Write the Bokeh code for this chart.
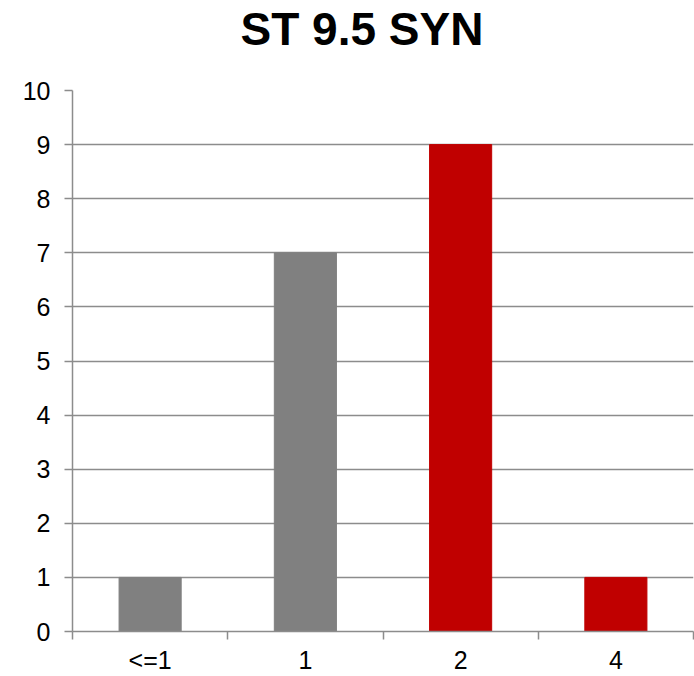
from bokeh.plotting import figure
from bokeh.models import Range1d, FixedTicker, ColumnDataSource, LinearAxis
from bokeh.embed import file_html
from bokeh.resources import INLINE

# Distribution counts per category
categories = ["<=1", "1", "2", "4"]
counts = [1, 7, 9, 1]
bar_colors = ["#808080", "#808080", "#C00000", "#C00000"]
y_ticks = list(range(0, 11))
title_text = "ST 9.5 SYN"

x_pos = [i + 0.5 for i in range(len(categories))]
source = ColumnDataSource(dict(x=x_pos, top=counts, color=bar_colors))

FONT = "Liberation Sans"
GRID = "#8c8c8c"

p = figure(
    width=694, height=676,
    x_range=Range1d(0, len(categories)), y_range=Range1d(0, 10),
    output_backend="svg", toolbar_location=None,
    min_border_left=72, min_border_right=1, min_border_top=89, min_border_bottom=43,
)
p.outline_line_color = None

p.vbar(x="x", top="top", bottom=0, width=0.4, color="color", source=source)

# blank band between the plotting area and the heading
gap = LinearAxis(
    ticker=FixedTicker(ticks=x_pos),
    major_label_overrides={x: "" for x in x_pos},
    major_tick_out=36, major_tick_in=0, major_label_standoff=0,
    major_tick_line_color=None, minor_tick_line_color=None, axis_line_color=None,
)
p.add_layout(gap, "above")

# heading
p.title.text = title_text
p.title.text_font = FONT
p.title.text_font_size = "46px"
p.title.text_font_style = "bold"
p.title.text_color = "black"
p.title.align = "left"
p.title.offset = 168
p.title.vertical_align = "bottom"
p.title.standoff = 0

# y axis
p.yaxis.ticker = FixedTicker(ticks=y_ticks)
p.yaxis.axis_line_color = GRID
p.yaxis.axis_line_width = 1.5
p.yaxis.major_tick_line_color = GRID
p.yaxis.major_tick_line_width = 1.5
p.yaxis.major_tick_out = 8
p.yaxis.major_tick_in = 0
p.yaxis.minor_tick_line_color = None
p.yaxis.major_label_text_font = FONT
p.yaxis.major_label_text_font_size = "25px"
p.yaxis.major_label_text_color = "black"
p.yaxis.major_label_standoff = 14

# x axis: labels at category centres, tick marks at category boundaries
xaxis = p.below[0]
xaxis.ticker = FixedTicker(ticks=x_pos, minor_ticks=list(range(len(categories) + 1)))
xaxis.major_label_overrides = {x: c for x, c in zip(x_pos, categories)}
xaxis.axis_line_color = GRID
xaxis.axis_line_width = 1.5
xaxis.major_tick_line_color = None
xaxis.major_tick_out = 0
xaxis.major_tick_in = 0
xaxis.minor_tick_line_color = GRID
xaxis.minor_tick_line_width = 1.5
xaxis.minor_tick_out = 8
xaxis.minor_tick_in = 0
xaxis.major_label_text_font = FONT
xaxis.major_label_text_font_size = "25px"
xaxis.major_label_text_color = "black"
xaxis.major_label_standoff = 6

p.xgrid.grid_line_color = None
p.ygrid.ticker = FixedTicker(ticks=y_ticks)
p.ygrid.grid_line_color = GRID
p.ygrid.grid_line_width = 1.5

open("out.html", "w").write(file_html(p, INLINE))
